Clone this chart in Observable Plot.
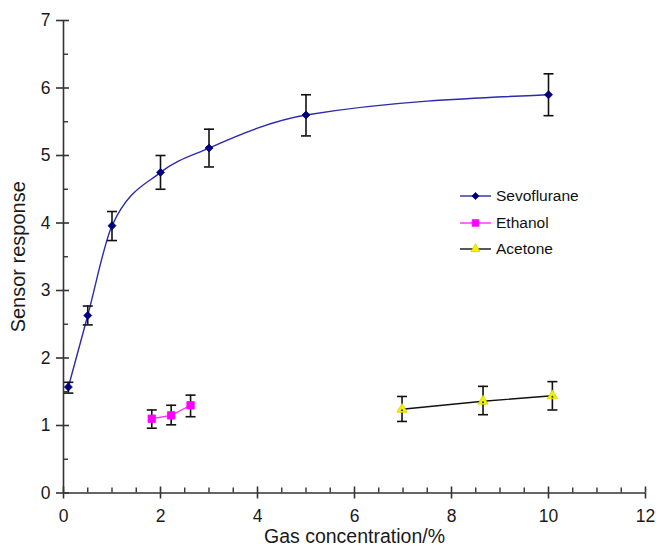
<!DOCTYPE html>
<html><head><meta charset="utf-8">
<script src="https://cdn.jsdelivr.net/npm/d3@7"></script>
<script src="https://cdn.jsdelivr.net/npm/@observablehq/plot@0.6"></script>
<style>
body{margin:0;background:#fff;font-family:Arial,"Liberation Sans",sans-serif;}
#wrap{position:relative;width:656px;height:549px;overflow:hidden}
#legend{position:absolute;left:460px;top:183px;font-size:15.5px;color:#111;font-family:Arial,"Liberation Sans",sans-serif}
.row{display:flex;align-items:center;height:26.5px}
.row svg{margin-right:4px}
</style></head><body><div id="wrap"><div id="chart"></div><div id="legend"></div></div>
<script>
// Sevoflurane
const sevoX  = [0.1, 0.5, 1, 2, 3, 5, 10];
const sevoY  = [1.57, 2.63, 3.96, 4.75, 5.11, 5.60, 5.90];
const sevoLo = [1.48, 2.49, 3.74, 4.50, 4.83, 5.29, 5.59];
const sevoHi = [1.64, 2.77, 4.17, 5.00, 5.39, 5.90, 6.21];
// Ethanol
const ethX  = [1.82, 2.22, 2.62];
const ethY  = [1.10, 1.15, 1.30];
const ethLo = [0.96, 1.01, 1.13];
const ethHi = [1.23, 1.30, 1.45];
// Acetone
const aceX  = [6.98, 8.65, 10.08];
const aceY  = [1.24, 1.36, 1.44];
const aceLo = [1.06, 1.16, 1.23];
const aceHi = [1.43, 1.58, 1.65];

const xTicks = [0, 2, 4, 6, 8, 10, 12];
const yTicks = [0, 1, 2, 3, 4, 5, 6, 7];
const xMinor = d3.range(0.5, 12, 0.5).filter(v => v % 2 !== 0);
const yMinor = d3.range(0.5, 7, 1);

const series = [
  {name: "Sevoflurane", x: sevoX, y: sevoY, lo: sevoLo, hi: sevoHi, line: "#2b2bab", fill: "#00007f", stroke: "#00007f", symbol: "diamond2", r: 3.6},
  {name: "Ethanol", x: ethX, y: ethY, lo: ethLo, hi: ethHi, line: "#ff2cff", fill: "#ff00ff", stroke: "#ff00ff", symbol: "square", r: 4.2},
  {name: "Acetone", x: aceX, y: aceY, lo: aceLo, hi: aceHi, line: "#111111", fill: "#f2f200", stroke: "#d4d400", symbol: "triangle", r: 3.8}
];
const tables = series.map(s => s.x.map((x, i) => ({x, y: s.y[i], lo: s.lo[i], hi: s.hi[i]})));

const cap = {draw(ctx) { ctx.moveTo(-5, 0); ctx.lineTo(5, 0); }};

const marks = [];
tables.forEach((t, k) => {
  const s = series[k];
  marks.push(Plot.line(t, {x: "x", y: "y", stroke: s.line, strokeWidth: 1.4, curve: k === 0 ? "monotone-x" : "linear"}));
  marks.push(Plot.ruleX(t, {x: "x", y1: "lo", y2: "hi", stroke: "#111", strokeWidth: 1.6}));
  marks.push(Plot.dot(t, {x: "x", y: "lo", symbol: cap, stroke: "#111", strokeWidth: 1.6, r: 5}));
  marks.push(Plot.dot(t, {x: "x", y: "hi", symbol: cap, stroke: "#111", strokeWidth: 1.6, r: 5}));
  marks.push(Plot.dot(t, {x: "x", y: "y", symbol: s.symbol, fill: s.fill, stroke: s.stroke, strokeWidth: 0.8, r: s.r}));
  if (k === 2) marks.push(Plot.dot(t, {x: "x", y: "y", fill: "#333", r: 1, dy: 1}));
});

const noText = () => "";
const chart = Plot.plot({
  width: 656, height: 549,
  marginLeft: 63, marginRight: 11, marginTop: 20, marginBottom: 56.5,
  style: {fontFamily: "Arial, 'Liberation Sans', sans-serif", fontSize: "17.5px", color: "#1a1a1a", background: "#fff"},
  x: {domain: [0, 12]},
  y: {domain: [0, 7]},
  marks: [
    ...marks,
    Plot.ruleY([0], {x1: 0, x2: 12, stroke: "#333", strokeWidth: 1.6}),
    Plot.ruleX([0], {y1: 0, y2: 7, stroke: "#333", strokeWidth: 1.6}),
    Plot.axisX({ticks: xTicks, tickSize: 6, tickPadding: 11, tickFormat: d => String(d), label: null, strokeWidth: 1.6, stroke: "#333", fontSize: 17.5}),
    Plot.axisX({ticks: [], tickSize: 0, label: "Gas concentration/%", labelAnchor: "center", labelArrow: "none", labelOffset: 50, fontSize: 19.5}),
    Plot.axisX({ticks: xTicks, tickSize: -6, tickFormat: noText, label: null, strokeWidth: 1.6, stroke: "#333"}),
    Plot.axisX({ticks: xMinor, tickSize: -5, tickFormat: noText, label: null, strokeWidth: 1.4, stroke: "#333"}),
    Plot.axisY({ticks: yTicks, tickSize: 7, tickPadding: 6, tickFormat: d => String(d), label: null, strokeWidth: 1.6, stroke: "#333", fontSize: 17.5}),
    Plot.axisY({ticks: [], tickSize: 0, label: "Sensor response", labelAnchor: "center", labelArrow: "none", labelOffset: 53, fontSize: 20}),
    Plot.axisY({ticks: yTicks, tickSize: -6, tickFormat: noText, label: null, strokeWidth: 1.6, stroke: "#333"}),
    Plot.axisY({ticks: yMinor, tickSize: -5, tickFormat: noText, label: null, strokeWidth: 1.4, stroke: "#333"})
  ]
});
document.getElementById("chart").appendChild(chart);

// Legend
const legend = d3.select("#legend");
series.forEach(s => {
  const row = legend.append("div").attr("class", "row");
  const svg = row.append("svg").attr("width", 32).attr("height", 12);
  svg.append("line").attr("x1", 0).attr("x2", 31).attr("y1", 6).attr("y2", 6).attr("stroke", s.line).attr("stroke-width", 1.4);
  const sym = {diamond2: d3.symbolDiamond2, square: d3.symbolSquare, triangle: d3.symbolTriangle}[s.symbol];
  svg.append("path").attr("transform", "translate(15.5,6)").attr("d", d3.symbol(sym, s.r * s.r * Math.PI * 0.8)())
    .attr("fill", s.fill).attr("stroke", s.stroke).attr("stroke-width", 0.8);
  row.append("span").text(s.name);
});
</script></body></html>
